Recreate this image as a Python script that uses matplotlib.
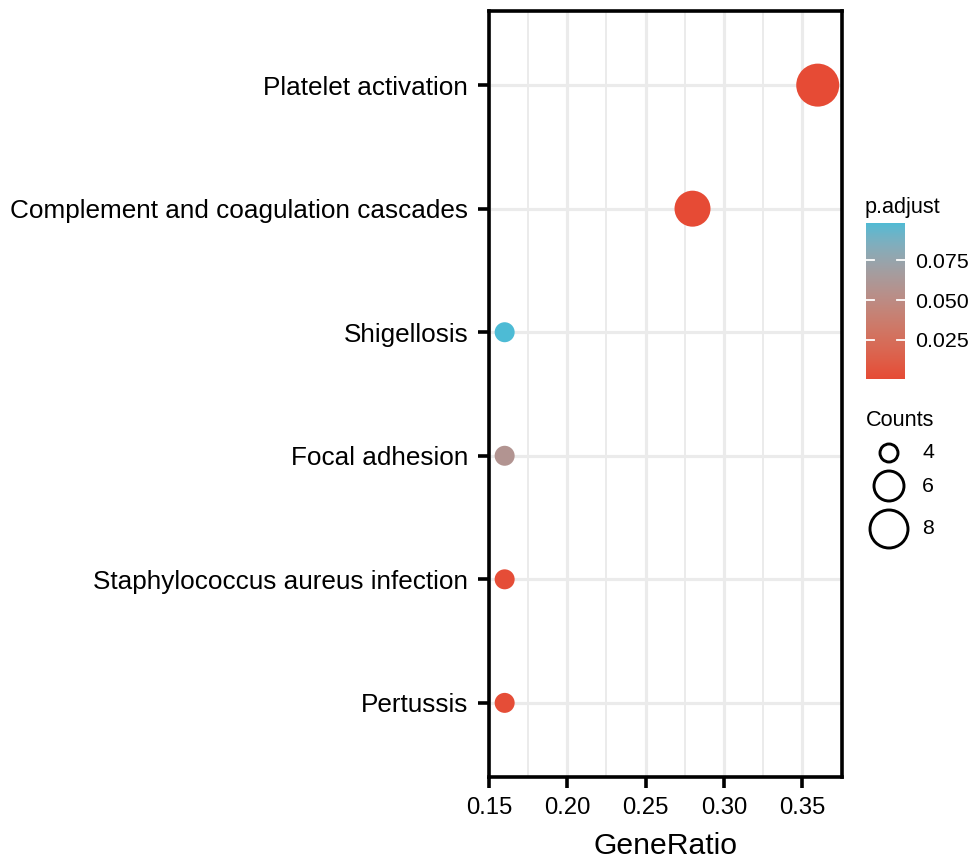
import numpy as np
import matplotlib
matplotlib.use("Agg")
import matplotlib.pyplot as plt
from matplotlib.colors import ListedColormap, Normalize

plt.rcParams['font.family'] = ['Liberation Sans', 'DejaVu Sans']

terms = ["Platelet activation", "Complement and coagulation cascades", "Shigellosis",
         "Focal adhesion", "Staphylococcus aureus infection", "Pertussis"]
gene_ratio = [0.36, 0.28, 0.16, 0.16, 0.16, 0.16]
counts = [9, 7, 4, 4, 4, 4]
p_adjust = [0.0003, 0.0005, 0.0985, 0.058, 0.0015, 0.0015]
x_ticks = [0.15, 0.20, 0.25, 0.30, 0.35]
cbar_ticks = [0.025, 0.050, 0.075]
legend_counts = [4, 6, 8]

LOW = "#E64B35"
HIGH = "#4DBBD5"

# --- Lab interpolation like ggplot2 gradients ---
def hex2rgb(h):
    h = h.lstrip('#')
    return np.array([int(h[i:i+2], 16) / 255 for i in (0, 2, 4)])

def srgb2lin(c):
    return np.where(c <= 0.04045, c / 12.92, ((c + 0.055) / 1.055) ** 2.4)

def lin2srgb(c):
    c = np.clip(c, 0, 1)
    return np.where(c <= 0.0031308, 12.92 * c, 1.055 * c ** (1 / 2.4) - 0.055)

M = np.array([[0.4124, 0.3576, 0.1805], [0.2126, 0.7152, 0.0722], [0.0193, 0.1192, 0.9505]])
Minv = np.linalg.inv(M)
WP = np.array([0.95047, 1.0, 1.08883])

def f(t):
    d = 6 / 29
    return np.where(t > d ** 3, np.cbrt(t), t / (3 * d * d) + 4 / 29)

def finv(t):
    d = 6 / 29
    return np.where(t > d, t ** 3, 3 * d * d * (t - 4 / 29))

def rgb2lab(rgb):
    xyz = M @ srgb2lin(rgb) / WP
    fx, fy, fz = f(xyz)
    return np.array([116 * fy - 16, 500 * (fx - fy), 200 * (fy - fz)])

def lab2rgb(lab):
    L, a, b = lab
    fy = (L + 16) / 116
    fx = fy + a / 500
    fz = fy - b / 200
    xyz = np.array([finv(fx), finv(fy), finv(fz)]) * WP
    return lin2srgb(Minv @ xyz)

l1, l2 = rgb2lab(hex2rgb(LOW)), rgb2lab(hex2rgb(HIGH))
cols = [lab2rgb(l1 + (l2 - l1) * t) for t in np.linspace(0, 1, 256)]
cmap = ListedColormap(cols)
norm = Normalize(vmin=min(p_adjust), vmax=max(p_adjust))

def diam(c):
    return np.interp(c, [4, 6, 8, 9], [20, 32, 40, 43])

W, H = 974, 865
fig = plt.figure(figsize=(W / 100, H / 100), dpi=100)

def px_axes(x0, y0, x1, y1):
    return fig.add_axes([x0 / W, 1 - y1 / H, (x1 - x0) / W, (y1 - y0) / H])

ax = px_axes(489, 11, 842, 777)
n = len(terms)
ypos = np.arange(n)[::-1]
ax.set_xlim(0.15, 0.3755)
ax.set_ylim(-0.6, n - 1 + 0.6)

for xt in x_ticks:
    ax.axvline(xt, color="#EBEBEB", lw=2.3, zorder=0)
for xt in np.array(x_ticks[:-1]) + 0.025:
    ax.axvline(xt, color="#EBEBEB", lw=1.4, zorder=0)
for yy in ypos:
    ax.axhline(yy, color="#EBEBEB", lw=2.3, zorder=0)

sizes = (diam(np.array(counts)) * 0.72) ** 2
ax.scatter(gene_ratio, ypos, s=sizes, c=p_adjust, cmap=cmap, norm=norm, zorder=3, linewidths=0)

ax.set_yticks(ypos)
ax.set_yticklabels(terms, fontsize=18.8)
ax.set_xticks(x_ticks)
ax.set_xticklabels([f"{t:.2f}" for t in x_ticks], fontsize=17.2)
ax.tick_params(length=8, width=2.6, color="black")
ax.tick_params(axis='y', pad=7)
ax.tick_params(axis='x', pad=6.5)
for s in ax.spines.values():
    s.set_linewidth(2.6)
ax.set_xlabel("GeneRatio", fontsize=21.7, labelpad=9)

# colorbar
cax = px_axes(866, 223, 905, 379)
grad = np.linspace(norm.vmin, norm.vmax, 256).reshape(-1, 1)
cax.imshow(grad, aspect='auto', cmap=cmap, norm=norm, origin='lower',
           extent=[0, 1, norm.vmin, norm.vmax])
cax.set_xlim(0, 1)
cax.set_ylim(norm.vmin, norm.vmax)
for t in cbar_ticks:
    cax.plot([0, 0.2], [t, t], color="white", lw=1.3)
    cax.plot([0.8, 1], [t, t], color="white", lw=1.3)
cax.set_xticks([])
cax.yaxis.tick_right()
cax.set_yticks(cbar_ticks)
cax.set_yticklabels([f"{t:.3f}" for t in cbar_ticks], fontsize=15.4)
cax.tick_params(axis='y', length=0, pad=7)
for s in cax.spines.values():
    s.set_visible(False)
fig.text(865 / W, 1 - 208 / H, "p.adjust", fontsize=15.6, va='center', ha='left')

# size legend
lax = px_axes(860, 400, 974, 560)
lax.set_xlim(860, 974)
lax.set_ylim(560, 400)
lax.axis('off')
lax.text(866, 421, "Counts", fontsize=15.6, va='center', ha='left')
leg_y = [453, 486, 529]
for c, yy in zip(legend_counts, leg_y):
    d = diam(c)
    lax.scatter([889], [yy], s=((d - 2) * 0.72) ** 2, facecolors='none', edgecolors='black', linewidths=2.1)
    lax.text(922, yy, str(c), fontsize=15.4, va='center', ha='left')

fig.savefig("out.png", dpi=100)
